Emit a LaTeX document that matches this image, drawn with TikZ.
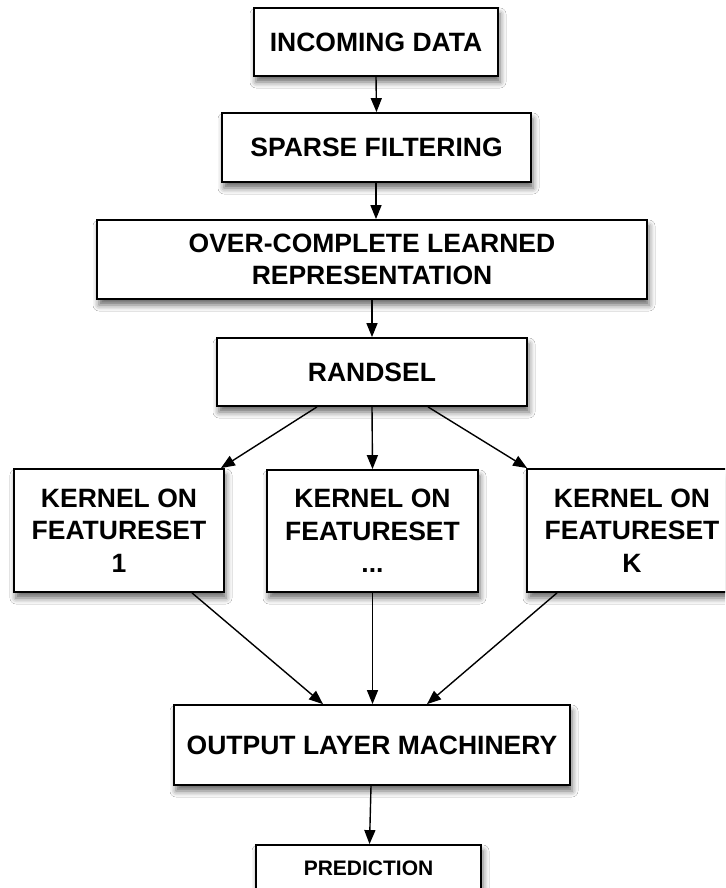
\documentclass[tikz,border=0pt]{standalone}
\usepackage{fontspec}
\setmainfont{Liberation Sans}
\usetikzlibrary{arrows.meta,shadows.blur,calc}
\begin{document}
\begin{tikzpicture}[x=1pt,y=-1pt,
  box/.style={draw=black, line width=1.8pt, fill=white, rectangle, inner sep=0pt,
    align=center, font=\bfseries\fontsize{26.5}{32.5}\selectfont,
    blur shadow={shadow xshift=2pt, shadow yshift=-6pt, shadow blur radius=6pt, shadow opacity=60}},
  arr/.style={line width=1.4pt, -{Triangle[length=14pt,width=11pt]}}]
\clip (0,0) rectangle (725,888);
\fill[white] (0,0) rectangle (725,888);
\node[box, minimum width=244pt, minimum height=68pt] (inc) at (376,42) {INCOMING DATA};
\node[box, minimum width=309pt, minimum height=69pt] (sp) at (376.5,147.5) {SPARSE FILTERING};
\node[box, minimum width=550pt, minimum height=79pt] (ov) at (372,259.5) {OVER-COMPLETE LEARNED\\REPRESENTATION};
\node[box, minimum width=310pt, minimum height=68pt] (rs) at (372,372) {RANDSEL};
\node[box, minimum width=210pt, minimum height=123pt] (k1) at (119,530.5) {KERNEL ON\\FEATURESET\\1};
\node[box, minimum width=211pt, minimum height=122pt] (km) at (372.5,531) {KERNEL ON\\FEATURESET\\...};
\node[box, minimum width=210pt, minimum height=123pt] (kk) at (632,530.5) {KERNEL ON\\FEATURESET\\K};
\node[box, minimum width=396pt, minimum height=80pt] (out) at (372,745) {OUTPUT LAYER MACHINERY};
\node[box, minimum width=225pt, minimum height=46pt, font=\bfseries\fontsize{21}{24}\selectfont] (pr) at (368.5,868) {PREDICTION};
\draw[arr] (inc.south) -- (sp.north);
\draw[arr] ([xshift=4pt]ov.north |- sp.south) -- ([xshift=4pt]ov.north);
\draw[arr] (ov.south) -- (rs.north);
\draw[arr] ([xshift=-55pt]rs.south) -- ([xshift=-4pt]k1.north east);
\draw[arr] (rs.south) -- (km.north);
\draw[arr] ([xshift=56pt]rs.south) -- ([xshift=1pt]kk.north west);
\draw[arr] ([xshift=73pt]k1.south) -- ([xshift=-49pt]out.north);
\draw[arr] (km.south) -- (km.south |- out.north);
\draw[arr] ([xshift=-75pt]kk.south) -- ([xshift=55pt]out.north);
\draw[arr] ([xshift=-1pt]out.south) -- ([xshift=1pt]pr.north);
\end{tikzpicture}
\end{document}
